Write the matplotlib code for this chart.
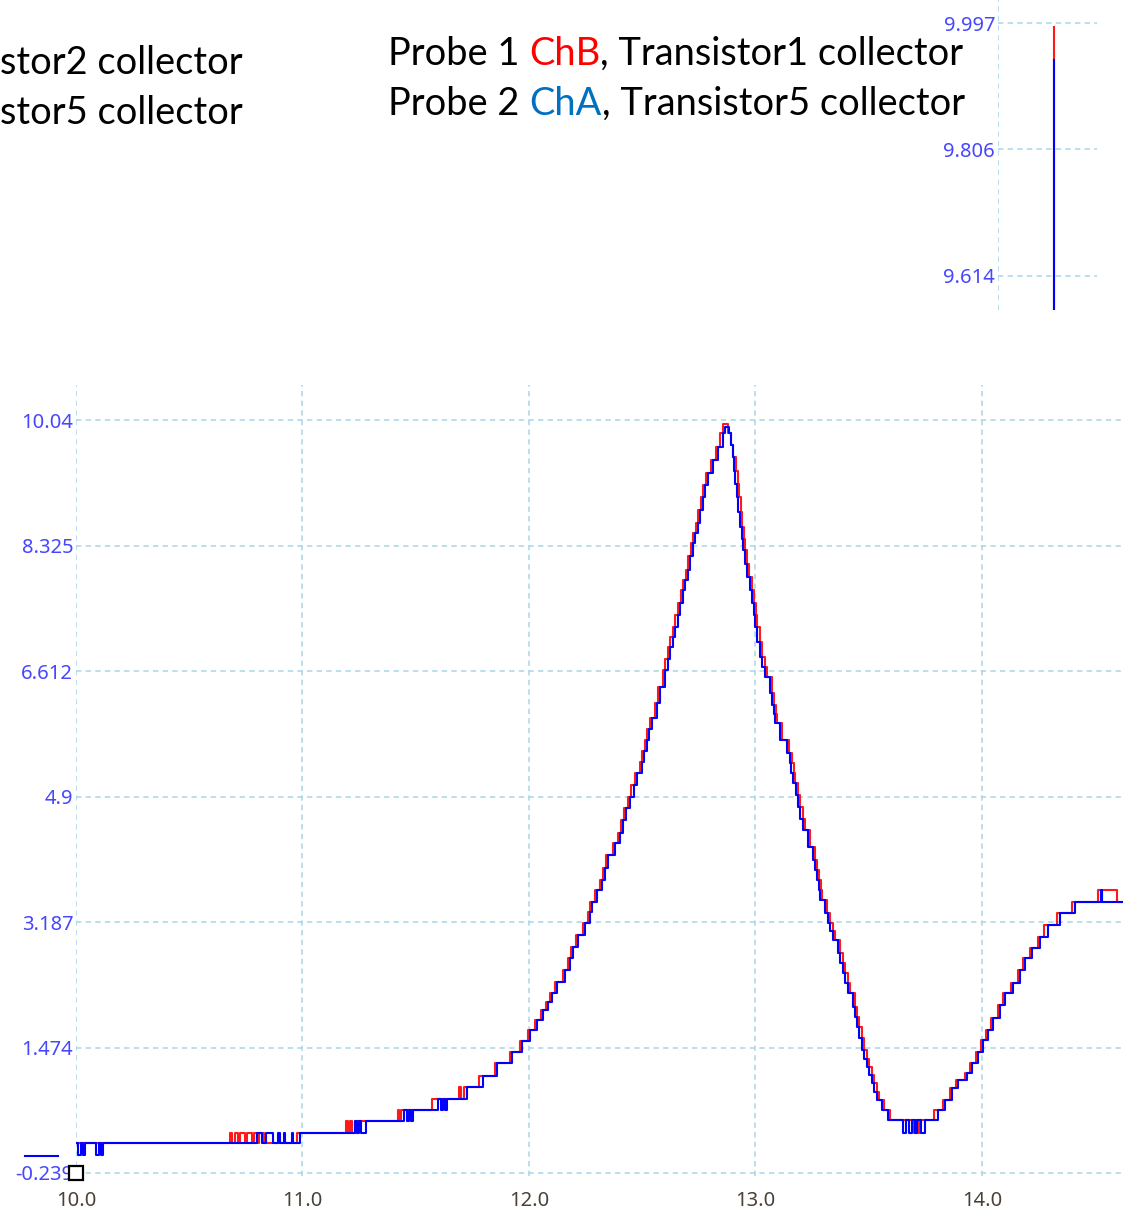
import matplotlib
matplotlib.use('Agg')
import matplotlib.pyplot as plt
from matplotlib.lines import Line2D

# ChA (azul) - pontos do degrau (tempo, tensao)
azul_x = [10.000, 10.009, 10.020, 10.030, 10.040, 10.088, 10.100, 10.110, 10.119,
          10.800, 10.820, 10.840, 10.870, 10.890, 10.900, 10.920, 10.925, 10.955, 10.960,
          10.989, 11.230, 11.240, 11.250, 11.260, 11.280, 11.450, 11.460, 11.470, 11.480,
          11.490, 11.600, 11.610, 11.620, 11.630, 11.640, 11.726, 11.797, 11.859, 11.925,
          11.969, 12.004, 12.035, 12.062, 12.085, 12.102, 12.124, 12.159, 12.181, 12.194,
          12.216, 12.247, 12.269, 12.278, 12.300, 12.322, 12.335, 12.349, 12.380, 12.402,
          12.415, 12.430, 12.446, 12.462, 12.477, 12.499, 12.510, 12.521, 12.532, 12.543,
          12.565, 12.578, 12.600, 12.612, 12.623, 12.634, 12.645, 12.656, 12.667, 12.680,
          12.691, 12.702, 12.713, 12.724, 12.735, 12.746, 12.757, 12.768, 12.779, 12.790,
          12.812, 12.834, 12.857, 12.865, 12.883, 12.892, 12.901, 12.905, 12.912, 12.918,
          12.925, 12.932, 12.939, 12.945, 12.954, 12.962, 12.974, 12.985, 12.992, 12.998,
          13.009, 13.020, 13.031, 13.042, 13.064, 13.073, 13.080, 13.086, 13.108, 13.139,
          13.152, 13.159, 13.166, 13.177, 13.188, 13.199, 13.210, 13.232, 13.254, 13.263,
          13.272, 13.279, 13.285, 13.307, 13.320, 13.331, 13.342, 13.364, 13.375, 13.386,
          13.397, 13.408, 13.430, 13.439, 13.448, 13.459, 13.470, 13.481, 13.492, 13.503,
          13.514, 13.525, 13.536, 13.558, 13.585, 13.651, 13.665, 13.680, 13.690, 13.705,
          13.715, 13.730, 13.748, 13.806, 13.837, 13.868, 13.894, 13.934, 13.956, 13.982,
          14.004, 14.026, 14.049, 14.079, 14.102, 14.137, 14.168, 14.190, 14.221, 14.256,
          14.291, 14.344, 14.411, 14.528, 14.532, 14.623]
azul_y = [0.171, 0.007, 0.171, 0.007, 0.171, 0.007, 0.171, 0.007, 0.171,
          0.307, 0.171, 0.307, 0.171, 0.307, 0.171, 0.307, 0.171, 0.307, 0.171,
          0.307, 0.471, 0.307, 0.471, 0.307, 0.471, 0.621, 0.471, 0.621, 0.471,
          0.621, 0.771, 0.621, 0.771, 0.621, 0.771, 0.935, 1.085, 1.262, 1.413,
          1.563, 1.713, 1.849, 1.986, 2.100, 2.218, 2.368, 2.532, 2.696, 2.846,
          3.009, 3.173, 3.323, 3.460, 3.624, 3.760, 3.930, 4.101, 4.265, 4.402,
          4.579, 4.740, 4.893, 5.060, 5.221, 5.371, 5.520, 5.671, 5.820, 5.971,
          6.176, 6.394, 6.626, 6.780, 6.940, 7.080, 7.213, 7.380, 7.541, 7.718,
          7.850, 7.991, 8.180, 8.360, 8.500, 8.633, 8.810, 8.988, 9.150, 9.315,
          9.493, 9.670, 9.861, 9.941, 9.861, 9.700, 9.534, 9.350, 9.170, 8.988,
          8.780, 8.578, 8.420, 8.264, 8.080, 7.896, 7.720, 7.541, 7.380, 7.213,
          7.010, 6.804, 6.670, 6.531, 6.313, 6.149, 6.030, 5.903, 5.671, 5.494,
          5.357, 5.220, 5.084, 4.920, 4.757, 4.600, 4.443, 4.211, 4.033, 3.900,
          3.760, 3.620, 3.487, 3.310, 3.173, 3.060, 2.941, 2.764, 2.630, 2.491,
          2.350, 2.218, 2.027, 1.890, 1.754, 1.600, 1.440, 1.320, 1.208, 1.100,
          0.989, 0.870, 0.757, 0.621, 0.484, 0.307, 0.484, 0.307, 0.484, 0.307,
          0.484, 0.307, 0.484, 0.621, 0.757, 0.921, 1.030, 1.126, 1.262, 1.413,
          1.576, 1.713, 1.877, 2.054, 2.218, 2.354, 2.532, 2.696, 2.832, 2.982,
          3.146, 3.310, 3.460, 3.624, 3.460, 3.460]

# ChB (vermelho)
verm_x = [10.000, 10.680, 10.690, 10.700, 10.715, 10.725, 10.745, 10.755, 10.775,
          10.785, 10.800, 10.810, 10.830, 10.975, 11.190, 11.200, 11.210, 11.220, 11.235,
          11.420, 11.425, 11.435, 11.570, 11.690, 11.700, 11.715, 11.780, 11.850, 11.915,
          11.960, 11.995, 12.025, 12.052, 12.075, 12.092, 12.114, 12.149, 12.171, 12.184,
          12.206, 12.237, 12.259, 12.268, 12.290, 12.312, 12.325, 12.339, 12.370, 12.392,
          12.405, 12.420, 12.436, 12.452, 12.467, 12.489, 12.500, 12.511, 12.522, 12.533,
          12.555, 12.568, 12.590, 12.602, 12.613, 12.624, 12.635, 12.646, 12.657, 12.670,
          12.681, 12.692, 12.703, 12.714, 12.725, 12.736, 12.747, 12.758, 12.769, 12.780,
          12.802, 12.824, 12.845, 12.856, 12.880, 12.893, 12.902, 12.915, 12.922, 12.928,
          12.935, 12.942, 12.949, 12.955, 12.964, 12.972, 12.984, 12.995, 13.002, 13.008,
          13.019, 13.030, 13.041, 13.052, 13.074, 13.083, 13.090, 13.096, 13.118, 13.149,
          13.162, 13.169, 13.176, 13.187, 13.198, 13.209, 13.220, 13.242, 13.264, 13.273,
          13.282, 13.289, 13.295, 13.317, 13.330, 13.341, 13.352, 13.374, 13.385, 13.396,
          13.407, 13.418, 13.440, 13.449, 13.458, 13.469, 13.480, 13.491, 13.502, 13.513,
          13.524, 13.535, 13.546, 13.568, 13.595, 13.700, 13.705, 13.720, 13.725, 13.790,
          13.827, 13.858, 13.884, 13.924, 13.946, 13.972, 13.994, 14.016, 14.039, 14.069,
          14.092, 14.127, 14.158, 14.180, 14.211, 14.246, 14.275, 14.330, 14.400, 14.512,
          14.525, 14.530, 14.596, 14.623]
verm_y = [0.171, 0.307, 0.171, 0.307, 0.171, 0.307, 0.171, 0.307, 0.171,
          0.307, 0.171, 0.307, 0.171, 0.307, 0.471, 0.307, 0.471, 0.307, 0.471,
          0.621, 0.471, 0.621, 0.771, 0.935, 0.771, 0.935, 1.085, 1.262, 1.413,
          1.563, 1.713, 1.849, 1.986, 2.100, 2.218, 2.368, 2.532, 2.696, 2.846,
          3.009, 3.173, 3.323, 3.460, 3.624, 3.760, 3.930, 4.101, 4.265, 4.402,
          4.579, 4.740, 4.893, 5.060, 5.221, 5.371, 5.520, 5.671, 5.820, 5.971,
          6.176, 6.394, 6.626, 6.780, 6.940, 7.080, 7.213, 7.380, 7.541, 7.718,
          7.850, 7.991, 8.180, 8.360, 8.500, 8.633, 8.810, 8.988, 9.150, 9.315,
          9.493, 9.670, 9.861, 9.991, 9.861, 9.700, 9.534, 9.350, 9.170, 8.988,
          8.780, 8.578, 8.420, 8.264, 8.080, 7.896, 7.720, 7.541, 7.380, 7.213,
          7.010, 6.804, 6.670, 6.531, 6.313, 6.149, 6.030, 5.903, 5.671, 5.494,
          5.357, 5.220, 5.084, 4.920, 4.757, 4.600, 4.443, 4.211, 4.033, 3.900,
          3.760, 3.620, 3.487, 3.310, 3.173, 3.060, 2.941, 2.764, 2.630, 2.491,
          2.350, 2.218, 2.027, 1.890, 1.754, 1.600, 1.440, 1.320, 1.208, 1.100,
          0.989, 0.870, 0.757, 0.621, 0.484, 0.307, 0.484, 0.307, 0.484, 0.621,
          0.757, 0.921, 1.030, 1.126, 1.262, 1.413, 1.576, 1.713, 1.877, 2.054,
          2.218, 2.354, 2.532, 2.696, 2.832, 2.982, 3.146, 3.310, 3.460, 3.624,
          3.460, 3.624, 3.460, 3.460]

# eixos
x_ticks = [10.0, 11.0, 12.0, 13.0, 14.0]
x_labels = ['10.0', '11.0', '12.0', '13.0', '14.0']
y_ticks = [-0.239, 1.474, 3.187, 4.9, 6.612, 8.325, 10.04]
y_labels = ['-0.239', '1.474', '3.187', '4.9', '6.612', '8.325', '10.04']
zoom_ticks = [9.614, 9.806, 9.997]
zoom_labels = ['9.614', '9.806', '9.997']

AZUL = '#0000ff'
VERM = '#ff1a1a'
GRADE = '#a9d6e5'
COR_Y = '#4646ff'
COR_X = '#4a4236'
TAM = 14.5

fig = plt.figure(figsize=(11.23, 12.23), dpi=100)
W, H = 1123.0, 1223.0


def grade(ax):
    ax.grid(True, color=GRADE, linestyle=(0, (3.5, 2.8)), linewidth=1.1)
    for s in ax.spines.values():
        s.set_visible(False)
    ax.tick_params(length=0)


# grafico principal
ax = fig.add_axes([76 / W, 1 - 1176 / H, 1 - 76 / W, (1176 - 385) / H])
ax.plot(verm_x, verm_y, drawstyle='steps-post', color=VERM, lw=1.5)
ax.plot(azul_x, azul_y, drawstyle='steps-post', color=AZUL, lw=1.5)
ax.set_xlim(10.0, 14.623)
ax.set_ylim(-0.28, 10.518)
ax.set_xticks(x_ticks)
ax.set_xticklabels(x_labels, color=COR_X, fontsize=TAM, family='Noto Sans')
ax.set_yticks(y_ticks)
ax.set_yticklabels(y_labels, color=COR_Y, fontsize=TAM, family='Noto Sans')
ax.tick_params(axis='x', pad=11)
ax.tick_params(axis='y', pad=2)
grade(ax)
# marcador da origem
ax.plot(x_ticks[0], y_ticks[0], 's', mfc='white', mec='black', mew=1.6, ms=10, clip_on=False, zorder=5)

# pedaco de linha fora do grafico (resto da legenda)
fig.add_artist(Line2D([25 / W, 58 / W], [1 - 1156 / H, 1 - 1156 / H], color=AZUL, lw=1.5))

# zoom do pico
az = fig.add_axes([998 / W, 1 - 310 / H, 99 / W, 310 / H])
pico_x = azul_x[azul_y.index(max(azul_y))]
az.plot([pico_x, pico_x], [9.5, max(verm_y)], color=VERM, lw=1.5)
az.plot([pico_x, pico_x], [9.5, max(azul_y)], color=AZUL, lw=1.5)
az.set_xlim(pico_x - 0.0113, pico_x + 0.0087)
az.set_ylim(9.562, 10.032)
az.set_xticks([pico_x - 0.0113])
az.set_xticklabels([])
az.set_yticks(zoom_ticks)
az.set_yticklabels(zoom_labels, color=COR_Y, fontsize=TAM, family='Noto Sans')
az.tick_params(axis='y', pad=2)
grade(az)

# textos
FONTE = dict(family='Lato', fontsize=27.4)


def texto_colorido(x, y, partes):
    t = fig.text(x, y, partes[0][0], color=partes[0][1], va='bottom', ha='left', **FONTE)
    for s, c in partes[1:]:
        t = ax.annotate(s, xy=(1, 0), xycoords=t, va='bottom', ha='left', color=c,
                        annotation_clip=False, **FONTE)


texto_colorido(388 / W, 1 - 72 / H, [('Probe 1 ', 'black'), ('ChB', '#ff0000'),
                                     (', Transistor1 collector', 'black')])
texto_colorido(388 / W, 1 - 122 / H, [('Probe 2 ', 'black'), ('ChA', '#0070c0'),
                                      (', Transistor5 collector', 'black')])
fig.text(0, 1 - 81 / H, 'stor2 collector', va='bottom', ha='left', color='black', **FONTE)
fig.text(0, 1 - 131 / H, 'stor5 collector', va='bottom', ha='left', color='black', **FONTE)

fig.savefig('out.png', dpi=100)
